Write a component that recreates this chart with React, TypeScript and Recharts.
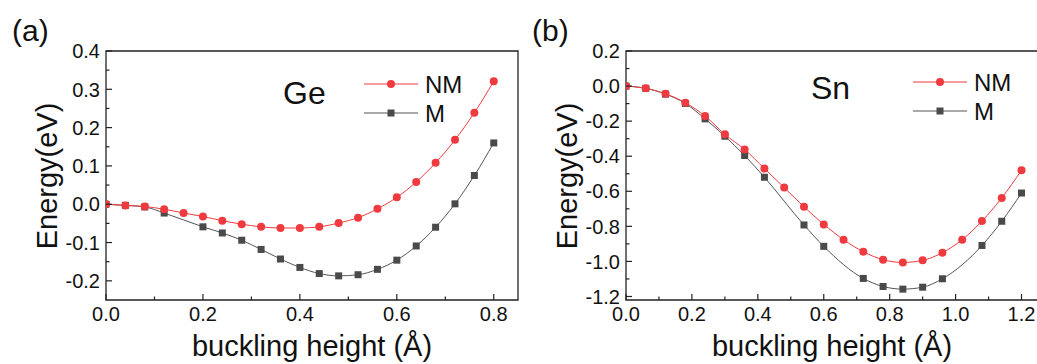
import { LineChart, Line, XAxis, YAxis, ReferenceArea } from 'recharts';

// (a) Ge
const geHeightNM = [0, 0.04, 0.08, 0.12, 0.16, 0.2, 0.24, 0.28, 0.32, 0.36, 0.4, 0.44, 0.48, 0.52, 0.56, 0.6, 0.64, 0.68, 0.72, 0.76, 0.8];
const geNM = [0, -0.003, -0.006, -0.013, -0.023, -0.032, -0.043, -0.052, -0.059, -0.062, -0.062, -0.059, -0.049, -0.035, -0.012, 0.018, 0.058, 0.108, 0.168, 0.239, 0.321];
const geHeightM = [0, 0.04, 0.08, 0.12, 0.2, 0.24, 0.28, 0.32, 0.36, 0.4, 0.44, 0.48, 0.52, 0.56, 0.6, 0.64, 0.68, 0.72, 0.76, 0.8];
const geM = [0, -0.003, -0.007, -0.023, -0.059, -0.075, -0.094, -0.118, -0.143, -0.165, -0.181, -0.187, -0.184, -0.17, -0.146, -0.109, -0.06, 0.001, 0.075, 0.16];
const geXTicks = [0, 0.1, 0.2, 0.3, 0.4, 0.5, 0.6, 0.7, 0.8];
const geXLabels = [0, 0.2, 0.4, 0.6, 0.8];
const geYTicks = [-0.2, -0.15, -0.1, -0.05, 0, 0.05, 0.1, 0.15, 0.2, 0.25, 0.3, 0.35, 0.4];
const geYLabels = [-0.2, -0.1, 0, 0.1, 0.2, 0.3, 0.4];

// (b) Sn
const snHeightNM = [0, 0.06, 0.12, 0.18, 0.24, 0.3, 0.36, 0.42, 0.48, 0.54, 0.6, 0.66, 0.72, 0.78, 0.84, 0.9, 0.96, 1.02, 1.08, 1.14, 1.2];
const snNM = [0, -0.013, -0.044, -0.095, -0.171, -0.275, -0.362, -0.47, -0.579, -0.688, -0.789, -0.876, -0.945, -0.99, -1.006, -0.994, -0.95, -0.876, -0.77, -0.638, -0.48];
const snHeightM = [0, 0.06, 0.12, 0.18, 0.24, 0.3, 0.36, 0.42, 0.54, 0.6, 0.72, 0.78, 0.84, 0.9, 0.96, 1.08, 1.14, 1.2];
const snM = [0, -0.013, -0.046, -0.099, -0.187, -0.286, -0.396, -0.52, -0.792, -0.914, -1.097, -1.143, -1.158, -1.147, -1.099, -0.909, -0.771, -0.61];
const snXTicks = [0, 0.1, 0.2, 0.3, 0.4, 0.5, 0.6, 0.7, 0.8, 0.9, 1.0, 1.1, 1.2];
const snXLabels = [0, 0.2, 0.4, 0.6, 0.8, 1.0, 1.2];
const snYTicks = [-1.2, -1.1, -1.0, -0.9, -0.8, -0.7, -0.6, -0.5, -0.4, -0.3, -0.2, -0.1, 0, 0.1, 0.2];
const snYLabels = [-1.2, -1.0, -0.8, -0.6, -0.4, -0.2, 0, 0.2];

const RED = '#ef3b3f';
const GRAY = '#4a4a4a';
const FONT = '"Liberation Sans", Arial, sans-serif';

const zip = (xs: number[], ys: number[]) => xs.map((x, i) => ({ x, y: ys[i] }));

const isLabel = (labels: number[], v: number) => labels.some((l) => Math.abs(l - v) < 1e-6);

// eslint-disable-next-line @typescript-eslint/no-explicit-any
const Square = (props: any) => {
    const { cx, cy, index } = props;
    if (cx == null || cy == null) return null;
    return <rect key={`sq-${index}`} x={cx - 3.5} y={cy - 3.5} width={7} height={7} fill={GRAY} />;
};

// eslint-disable-next-line @typescript-eslint/no-explicit-any
const Circle = (props: any) => {
    const { cx, cy, index } = props;
    if (cx == null || cy == null) return null;
    return <circle key={`ci-${index}`} cx={cx} cy={cy} r={4} fill={RED} />;
};

type PanelProps = {
    left: number;
    tag: string;
    element: string;
    nm: { x: number; y: number }[];
    m: { x: number; y: number }[];
    xDomain: [number, number];
    yDomain: [number, number];
    xTicks: number[];
    xLabels: number[];
    yTicks: number[];
    yLabels: number[];
    elementPos: [number, number];
    legendPos: [number, number];
};

function Panel(p: PanelProps) {
    // eslint-disable-next-line @typescript-eslint/no-explicit-any
    const XTick = (props: any) => {
        const { x, y, payload } = props;
        const major = isLabel(p.xLabels, payload.value);
        return (
            <g>
                <line x1={x} y1={y} x2={x} y2={y - (major ? 6 : 3.5)} stroke="#222" strokeWidth={1.2} />
                {major && (
                    <text x={x} y={y + 21} textAnchor="middle" fontSize={20} fontFamily={FONT} fill="#111">
                        {payload.value.toFixed(1)}
                    </text>
                )}
            </g>
        );
    };

    // eslint-disable-next-line @typescript-eslint/no-explicit-any
    const YTick = (props: any) => {
        const { x, y, payload } = props;
        const major = isLabel(p.yLabels, payload.value);
        return (
            <g>
                <line x1={x} y1={y} x2={x + (major ? 6 : 3.5)} y2={y} stroke="#222" strokeWidth={1.2} />
                {major && (
                    <text x={x - 6} y={y} dy="0.36em" textAnchor="end" fontSize={20} fontFamily={FONT} fill="#111">
                        {payload.value.toFixed(1)}
                    </text>
                )}
            </g>
        );
    };

    const [lx, ly] = p.legendPos;

    return (
        <div style={{ position: 'absolute', left: p.left, top: 0 }}>
            <LineChart width={540} height={364} margin={{ top: 51, right: 22, bottom: 63, left: 105 }}>
                <XAxis
                    dataKey="x"
                    type="number"
                    domain={p.xDomain}
                    ticks={p.xTicks}
                    interval={0}
                    allowDataOverflow
                    height={1}
                    tickSize={0}
                    tickMargin={0}
                    tickLine={false}
                    axisLine={false}
                    tick={<XTick />}
                />
                <YAxis
                    dataKey="y"
                    type="number"
                    domain={p.yDomain}
                    ticks={p.yTicks}
                    interval={0}
                    allowDataOverflow
                    width={1}
                    tickSize={0}
                    tickMargin={0}
                    tickLine={false}
                    axisLine={false}
                    tick={<YTick />}
                />
                <ReferenceArea
                    x1={p.xDomain[0]}
                    x2={p.xDomain[1]}
                    y1={p.yDomain[0]}
                    y2={p.yDomain[1]}
                    fill="none"
                    stroke="#222"
                    strokeWidth={1.3}
                    ifOverflow="visible"
                />
                <Line data={p.m} dataKey="y" type="monotone" stroke="#555" strokeWidth={1} dot={<Square />} activeDot={false} isAnimationActive={false} />
                <Line data={p.nm} dataKey="y" type="monotone" stroke={RED} strokeWidth={1} dot={<Circle />} activeDot={false} isAnimationActive={false} />

                <text x={12} y={41} fontSize={30} fontFamily={FONT} fill="#111">{p.tag}</text>
                <text x={p.elementPos[0]} y={p.elementPos[1]} fontSize={32} fontFamily={FONT} fill="#111">{p.element}</text>
                <text transform="translate(47,176) rotate(-90)" textAnchor="middle" dy="0.36em" fontSize={29} fontFamily={FONT} fill="#111">Energy(eV)</text>
                <text x={106 + 206} y={356} textAnchor="middle" fontSize={29} fontFamily={FONT} fill="#111">buckling height (Å)</text>

                <g>
                    <line x1={lx} y1={ly} x2={lx + 54} y2={ly} stroke={RED} strokeWidth={1} />
                    <circle cx={lx + 27} cy={ly} r={4} fill={RED} />
                    <text x={lx + 61} y={ly + 9} fontSize={24} fontFamily={FONT} fill="#111">NM</text>
                    <line x1={lx} y1={ly + 29} x2={lx + 54} y2={ly + 29} stroke="#555" strokeWidth={1} />
                    <rect x={lx + 23.5} y={ly + 25.5} width={7} height={7} fill={GRAY} />
                    <text x={lx + 61} y={ly + 38} fontSize={24} fontFamily={FONT} fill="#111">M</text>
                </g>
            </LineChart>
        </div>
    );
}

export default function App() {
    return (
        <div style={{ position: 'absolute', left: 0, top: 0, width: 1037, height: 364, overflow: 'hidden', background: '#fff' }}>
            <Panel
                left={0}
                tag="(a)"
                element="Ge"
                nm={zip(geHeightNM, geNM)}
                m={zip(geHeightM, geM)}
                xDomain={[0, 0.85]}
                yDomain={[-0.25, 0.4]}
                xTicks={geXTicks}
                xLabels={geXLabels}
                yTicks={geYTicks}
                yLabels={geYLabels}
                elementPos={[283, 104]}
                legendPos={[364, 84]}
            />
            <Panel
                left={520}
                tag="(b)"
                element="Sn"
                nm={zip(snHeightNM, snNM)}
                m={zip(snHeightM, snM)}
                xDomain={[0, 1.25]}
                yDomain={[-1.22, 0.2]}
                xTicks={snXTicks}
                xLabels={snXLabels}
                yTicks={snYTicks}
                yLabels={snYLabels}
                elementPos={[291, 99]}
                legendPos={[393, 82]}
            />
        </div>
    );
}
